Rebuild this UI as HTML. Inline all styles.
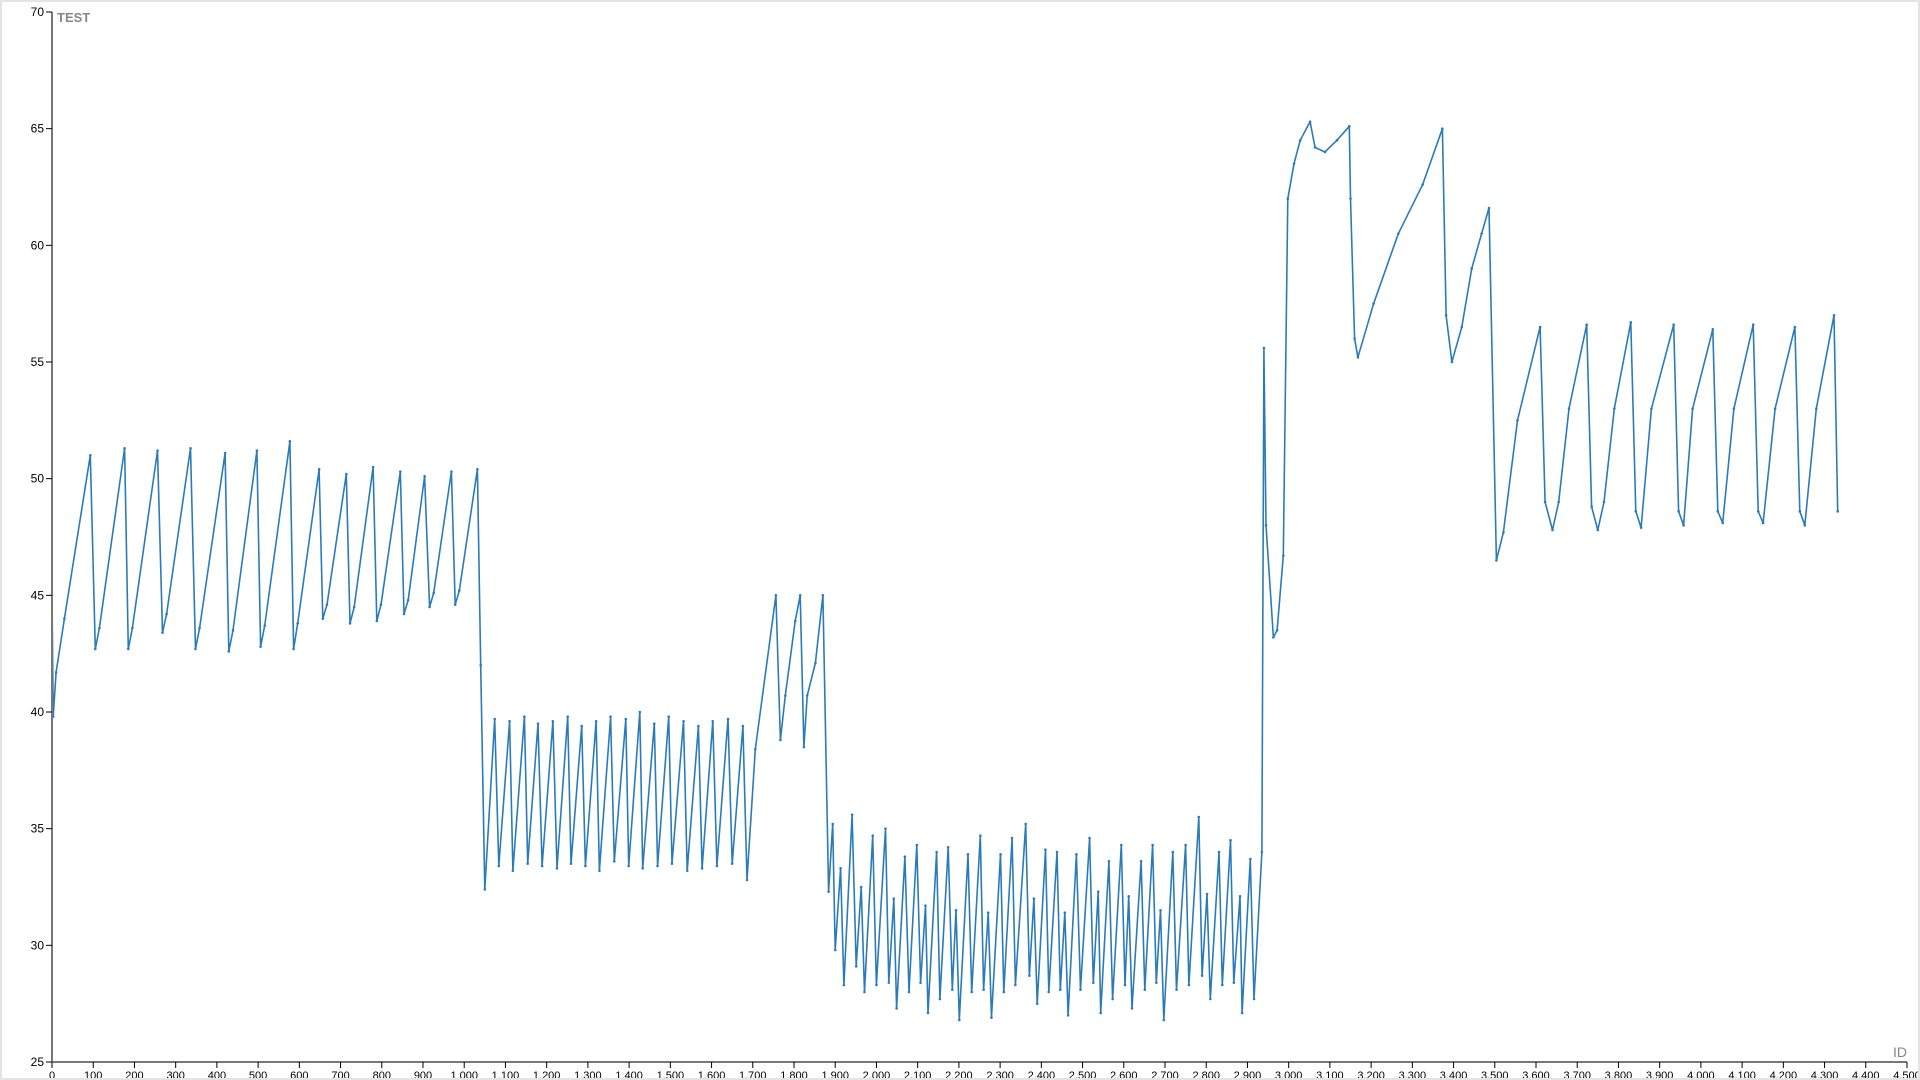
<!DOCTYPE html>
<html><head><meta charset="utf-8"><title>TEST vs ID</title>
<style>
html,body{margin:0;padding:0;background:#fff;}
#wrap{position:relative;width:1920px;height:1080px;box-sizing:border-box;border:2px solid #e4e4e4;overflow:hidden;}
svg{position:absolute;left:0;top:0;}
text{font-family:"Liberation Sans",sans-serif;}
</style></head>
<body>
<div id="wrap">
<svg id="chart" width="1920" height="1080"></svg>
</div>
<script>
// ---- data (keypoints) ----
const ids = [0,3,10,30,93,105,115,176,185,195,256,268,278,336,348,358,420,429,439,497,506,516,577,586,596,648,657,667,714,723,733,779,788,798,845,854,864,904,916,926,969,978,988,1032,1040,1050,
1074,1084,1110,1118,1146,1154,1179,1189,1215,1225,1251,1259,1285,1294,1320,1328,1355,1364,1392,1399,1426,1433,1461,1469,1496,1504,1532,1541,1568,1577,1603,1613,1640,1650,1676,1686,
1706,1756,1767,1779,1803,1815,1824,1832,1852,1870,1884,
1894,1900,1913,1921,1941,1951,1963,1971,1991,2000,2022,2030,2042,2049,2069,2079,2098,2107,2119,2125,2146,2154,2174,2184,2193,2201,2222,2231,2252,2260,2271,2279,2301,2309,2329,2337,2362,2371,2382,2390,2410,2418,2438,2446,2457,2465,2485,2495,2517,2526,2538,2544,2564,2573,2594,2603,2612,2620,2642,2651,2670,2679,2689,2697,2719,2728,2750,2758,2782,2790,2802,2810,2831,2839,2859,2867,2882,2887,2907,2916,2935,
2940,2945,2963,2972,2987,2998,3013,3028,3052,3064,3088,3117,3147,3150,3160,3168,3206,3266,3325,3373,3382,3396,3420,3444,3468,3486,3504,3521,
3555,3610,3622,3640,3655,3680,3723,3735,3750,3765,3790,3830,3842,3855,3880,3934,3946,3958,3980,4029,4041,4053,4080,4127,4139,4151,4180,4228,4240,4252,4280,4323,4332];
const values = [45,39.8,41.7,44,51.0,42.7,43.6,51.3,42.7,43.6,51.2,43.4,44.2,51.3,42.7,43.6,51.1,42.6,43.5,51.2,42.8,43.7,51.6,42.7,43.8,50.4,44.0,44.6,50.2,43.8,44.5,50.5,43.9,44.6,50.3,44.2,44.8,50.1,44.5,45.1,50.3,44.6,45.2,50.4,42,32.4,
39.7,33.4,39.6,33.2,39.8,33.5,39.5,33.4,39.6,33.3,39.8,33.5,39.4,33.4,39.6,33.2,39.8,33.6,39.7,33.4,40.0,33.3,39.5,33.4,39.8,33.5,39.6,33.2,39.4,33.3,39.6,33.4,39.7,33.5,39.4,32.8,
38.4,45.0,38.8,40.7,43.9,45.0,38.5,40.7,42.1,45.0,32.3,
35.2,29.8,33.3,28.3,35.6,29.1,32.5,28.0,34.7,28.3,35.0,28.4,32.0,27.3,33.8,28.0,34.3,28.4,31.7,27.1,34.0,27.7,34.2,28.1,31.5,26.8,33.9,28.0,34.7,28.1,31.4,26.9,33.9,28.0,34.6,28.3,35.2,28.7,32.0,27.5,34.1,28.0,34.0,28.1,31.4,27.0,33.9,28.1,34.6,28.4,32.3,27.1,33.6,27.7,34.3,28.3,32.1,27.3,33.6,28.1,34.3,28.4,31.5,26.8,34.0,28.1,34.3,28.3,35.5,28.7,32.2,27.7,34.0,28.3,34.5,28.4,32.1,27.1,33.7,27.7,34.0,
55.6,48.0,43.2,43.5,46.7,62.0,63.5,64.5,65.3,64.2,64.0,64.5,65.1,62.0,56.0,55.2,57.5,60.5,62.6,65.0,57.0,55.0,56.5,59.0,60.5,61.6,46.5,47.7,
52.5,56.5,49.0,47.8,49.0,53.0,56.6,48.8,47.8,49.0,53.0,56.7,48.6,47.9,53.0,56.6,48.6,48.0,53.0,56.4,48.6,48.1,53.0,56.6,48.6,48.1,53.0,56.5,48.6,48.0,53.0,57.0,48.6];
const yTicks = [25,30,35,40,45,50,55,60,65,70];
const xTicks = [];
for (let t = 0; t <= 4500; t += 100) xTicks.push(t);

// ---- scales ----
const X0 = 50, X1 = 1905, Y0 = 1060, Y1 = 10;
function xs(v){ return X0 + v / 4500 * (X1 - X0); }
function ys(v){ return Y0 - (v - 25) / 45 * (Y0 - Y1); }
function fmt(n){ return String(n).replace(/\B(?=(\d{3})+(?!\d))/g, ','); }

const svg = document.getElementById('chart');
const NS = 'http://www.w3.org/2000/svg';
function mk(tag, attrs){ const e = document.createElementNS(NS, tag); for (const k in attrs) e.setAttribute(k, attrs[k]); svg.appendChild(e); return e; }

let d = '';
for (let i = 0; i < ids.length; i++) d += (i ? 'L' : 'M') + xs(ids[i]).toFixed(1) + ',' + ys(values[i]).toFixed(1);
const line = mk('path', {d: d, fill: 'none', stroke: '#2b7bba', 'stroke-width': 1.6, 'stroke-linejoin': 'round'});


for (let i = 0; i < ids.length; i++) {
  const c = mk('circle', {cx: xs(ids[i]), cy: ys(values[i]), r: 1.3, fill: '#2b7bba'});
  
  
}

const ya = mk('line', {x1: X0, y1: Y1, x2: X0, y2: Y0, stroke: '#777', 'stroke-width': 2});


yTicks.forEach(t => {
  const tk = mk('line', {x1: X0 - 6, y1: ys(t), x2: X0, y2: ys(t), stroke: '#000', 'stroke-width': 1});
  
  
  const lb = mk('text', {x: X0 - 8, y: ys(t) + 4, 'text-anchor': 'end', 'font-size': 12, fill: '#000'});
  lb.textContent = t;
  
  
});
const xa = mk('line', {x1: X0, y1: Y0, x2: X1, y2: Y0, stroke: '#777', 'stroke-width': 2});


xTicks.forEach(t => {
  const tk = mk('line', {x1: xs(t), y1: Y0, x2: xs(t), y2: Y0 + 6, stroke: '#000', 'stroke-width': 1});
  
  
  const lb = mk('text', {x: xs(t), y: Y0 + 17, 'text-anchor': 'middle', 'font-size': 11, fill: '#000'});
  lb.textContent = fmt(t);
  
  
});
const yt = mk('text', {x: 55, y: 20, 'font-size': 13, 'font-weight': 'bold', fill: '#888'});
yt.textContent = 'TEST';


const xt = mk('text', {x: 1905, y: 1055, 'text-anchor': 'end', 'font-size': 14, fill: '#888'});
xt.textContent = 'ID';


</script>
</body></html>
